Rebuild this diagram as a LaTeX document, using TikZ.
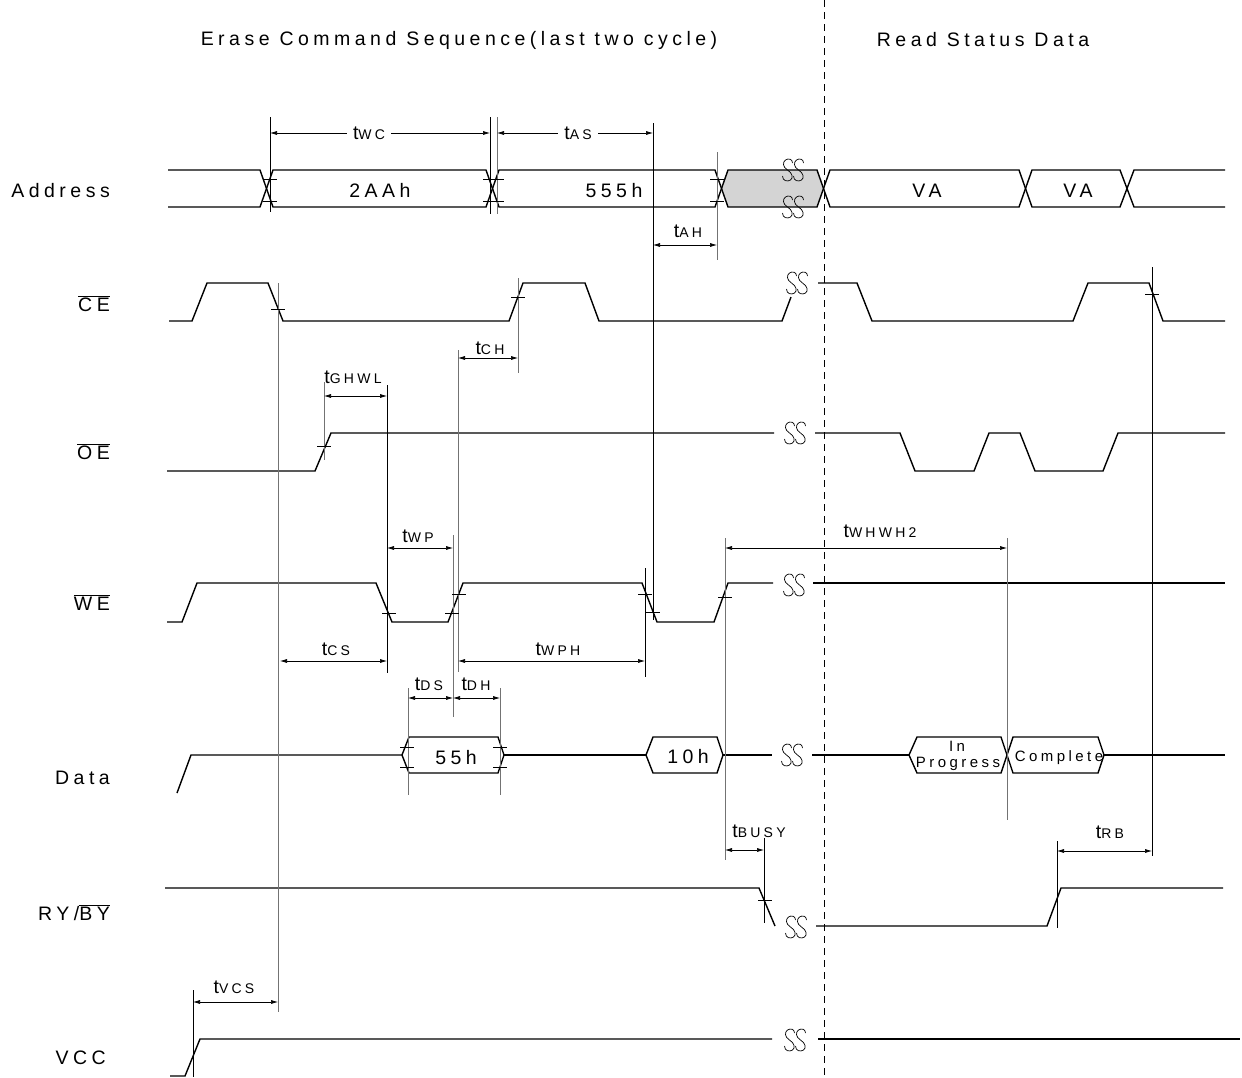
\documentclass[tikz,border=0pt]{standalone}
\usepackage{fontspec}
\setmainfont{Liberation Sans}[LetterSpace=23]
\usetikzlibrary{arrows.meta}
\newcommand{\tsub}[1]{t{\fontsize{14}{16}\selectfont #1}}
\begin{document}
\begin{tikzpicture}[x=1pt, y=-1pt, font=\fontsize{19.5}{22}\selectfont, >={Latex[length=7pt,width=4pt]},
		sig/.style={line width=1.4pt},
		tim/.style={line width=0.6pt},
		timg/.style={line width=0.7pt, black!55},
		dim/.style={<->, line width=0.6pt},
		tick/.style={line width=0.6pt},
		tlab/.style={anchor=base, inner sep=0pt},
		rowlab/.style={anchor=base east, inner sep=0pt},
		small/.style={anchor=base, inner sep=0pt, font=\fontsize{15}{17}\selectfont},
		ssmark/.pic={\foreach \c in {-5.5,5.5} \draw[line width=0.7pt, shift={(\c,0)}] (-5,6) .. controls (-5,11) and (0,12) .. (3,10) .. controls (6,8) and (5,3) .. (0,0) .. controls (-5,-3) and (-5,-8) .. (-2,-10) .. controls (1,-12) and (5,-11) .. (5,-7);}]
		\useasboundingbox (0,0) rectangle (1242,1077);
		\node (ttl) at (459,40) {Erase Command Sequence(last two cycle)};
		\node (ttr) at (983,40) {Read Status Data};
		\draw[line width=0.7pt, dash pattern=on 7pt off 5pt] (824,0) -- (824,1077);
		\node[rowlab] (laddr) at (110,197) {Address};
		\node[rowlab] (lce) at (110,311) {$\overline{\mbox{CE}}$};
		\node[rowlab] (loe) at (110,459) {$\overline{\mbox{OE}}$};
		\node[rowlab] (lwe) at (110,610) {$\overline{\mbox{WE}}$};
		\node[rowlab] (ldata) at (110,784) {Data};
		\node[rowlab] (lry) at (110,920) {RY/$\overline{\mbox{BY}}$};
		\node[rowlab] (lvcc) at (106,1064) {VCC};
		\fill[black!17] (721.5,188.5) -- (728,170) -- (817,170) -- (823.5,188.5) -- (817,207) -- (728,207) -- cycle;
		\draw[sig] (168,170) -- (260,170) -- (273,207) -- (486,207) -- (499,170) -- (715,170) -- (728,207) -- (817,207) -- (830,170) -- (1019,170) -- (1032,207) -- (1120,207) -- (1134,170) -- (1225,170);
		\draw[sig] (168,207) -- (260,207) -- (273,170) -- (486,170) -- (499,207) -- (715,207) -- (728,170) -- (817,170) -- (830,207) -- (1019,207) -- (1032,170) -- (1120,170) -- (1134,207) -- (1225,207);
		\node[tlab] (a2aa) at (380,197) {2AAh};
		\node[tlab] (a555) at (614,197) {555h};
		\node[tlab] (ava1) at (927,197) {VA};
		\node[tlab] (ava2) at (1078,197) {VA};
		\pic at (793,170) {ssmark};
		\pic at (793,207) {ssmark};
		\draw[sig] (169,321) -- (192,321) -- (207,283) -- (268,283) -- (283,321) -- (509,321) -- (523,283) -- (585,283) -- (599,321) -- (782,321) -- (791,297);
		\draw[sig] (818,283) -- (857,283) -- (872,321) -- (1073,321) -- (1088,283) -- (1149,283) -- (1163,321) -- (1225,321);
		\pic at (797,283) {ssmark};
		\draw[sig] (167,471) -- (315,471) -- (331,433) -- (774,433);
		\draw[sig] (815,433) -- (900,433) -- (915,471) -- (974,471) -- (989,433) -- (1020,433) -- (1035,471) -- (1103,471) -- (1118,433) -- (1225,433);
		\pic at (795,433) {ssmark};
		\draw[sig] (167,622) -- (182,622) -- (197,583) -- (376,583) -- (392,622) -- (448,622) -- (463,583) -- (642,583) -- (657,622) -- (714,622) -- (728,583) -- (773,583);
		\draw[sig] (813,583) -- (1225,583);
		\pic at (794,585) {ssmark};
		\draw[sig] (177,793) -- (191,755) -- (402,755);
		\draw[sig] (402,755) -- (409,737) -- (498,737) -- (504,755) -- (498,773) -- (409,773) -- cycle;
		\draw[sig] (504,755) -- (646,755);
		\draw[sig] (646,755) -- (653,737) -- (717,737) -- (723,755) -- (717,773) -- (653,773) -- cycle;
		\draw[sig] (723,755) -- (772,755);
		\draw[sig] (812,755) -- (909,755);
		\draw[sig] (909,755) -- (917,737) -- (1001,737) -- (1007,755) -- (1001,773) -- (917,773) -- cycle;
		\draw[sig] (1007,755) -- (1013,737) -- (1098,737) -- (1104,755) -- (1098,773) -- (1013,773) -- cycle;
		\draw[sig] (1104,755) -- (1225,755);
		\pic at (792,755) {ssmark};
		\node[tlab] (d55) at (456,764) {55h};
		\node[tlab] (d10) at (688,763) {10h};
		\node[small] (dinp) at (957,751) {In};
		\node[small] (dprog) at (958,767) {Progress};
		\node[small] (dcomp) at (1059,761) {Complete};
		\draw[sig] (165,888) -- (759,888) -- (775,926);
		\draw[sig] (816,926) -- (1047,926) -- (1061,888) -- (1223,888);
		\pic at (796,927) {ssmark};
		\draw[sig] (170,1076) -- (185,1076) -- (200,1039) -- (772,1039);
		\draw[sig] (818,1039) -- (1240,1039);
		\pic at (795,1040) {ssmark};
		\draw[tim] (270,117) -- (270,212);
		\draw[tim] (490,117) -- (490,214);
		\draw[timg] (497,117) -- (497,214);
		\draw[tim] (653,123) -- (653,620);
		\draw[timg] (717,152) -- (717,260);
		\draw[timg] (278,283) -- (278,1012);
		\draw[timg] (518,278) -- (518,373);
		\draw[timg] (458,350) -- (458,672);
		\draw[timg] (324,382) -- (324,460);
		\draw[tim] (387,385) -- (387,673);
		\draw[timg] (453,535) -- (453,717);
		\draw[timg] (408,688) -- (408,795);
		\draw[timg] (500,688) -- (500,795);
		\draw[tim] (645,568) -- (645,677);
		\draw[timg] (725,538) -- (725,860);
		\draw[timg] (1007,538) -- (1007,820);
		\draw[tim] (764,838) -- (764,923);
		\draw[tim] (1152,267) -- (1152,856);
		\draw[tim] (1057,841) -- (1057,928);
		\draw[tim] (193,990) -- (193,1077);
		\foreach \x in {270,490,497,717} \foreach \y in {179,201} \draw[tick] (\x-7,\y) -- (\x+7,\y);
		\foreach \x/\y in {278/309,518/297,1152/294,324/446,389/613,459/594,452/613,645/594,653/612,725/597,407/747,407/767,500/747,500/767,765/900} \draw[tick] (\x-7,\y) -- (\x+7,\y);
		\draw[dim] (270,133) -- node[pos=0.45, fill=white, inner xsep=6pt, inner ysep=1pt] (twc) {\tsub{WC}} (490,133);
		\draw[dim] (497,133) -- node[pos=0.52, fill=white, inner xsep=6pt, inner ysep=1pt] (tas) {\tsub{AS}} (653,133);
		\draw[dim] (653,245) -- (717,245);
		\node[tlab] (tah) at (688,237) {\tsub{AH}};
		\draw[dim] (458,358) -- (518,358);
		\node[tlab] (tch) at (490,354) {\tsub{CH}};
		\draw[dim] (324,396) -- (387,396);
		\node[tlab] (tghwl) at (353,383) {\tsub{GHWL}};
		\draw[dim] (387,548) -- (453,548);
		\node[tlab] (twp) at (418,542) {\tsub{WP}};
		\draw[dim] (280,661) -- (387,661);
		\node[tlab] (tcs) at (336,655) {\tsub{CS}};
		\draw[dim] (458,661) -- (645,661);
		\node[tlab] (twph) at (558,655) {\tsub{WPH}};
		\draw[dim] (408,698) -- (453,698);
		\node[tlab] (tds) at (429,690) {\tsub{DS}};
		\draw[dim] (453,698) -- (500,698);
		\node[tlab] (tdh) at (476,690) {\tsub{DH}};
		\draw[dim] (725,548) -- (1007,548);
		\node[tlab] (twhwh) at (880,537) {\tsub{WHWH2}};
		\draw[dim] (725,850) -- (764,850);
		\node[tlab] (tbusy) at (759,837) {\tsub{BUSY}};
		\draw[dim] (1057,851) -- (1152,851);
		\node[tlab] (trb) at (1110,838) {\tsub{RB}};
		\draw[dim] (193,1002) -- (278,1002);
		\node[tlab] (tvcs) at (234,993) {\tsub{VCS}};
	\end{tikzpicture}
\end{document}
